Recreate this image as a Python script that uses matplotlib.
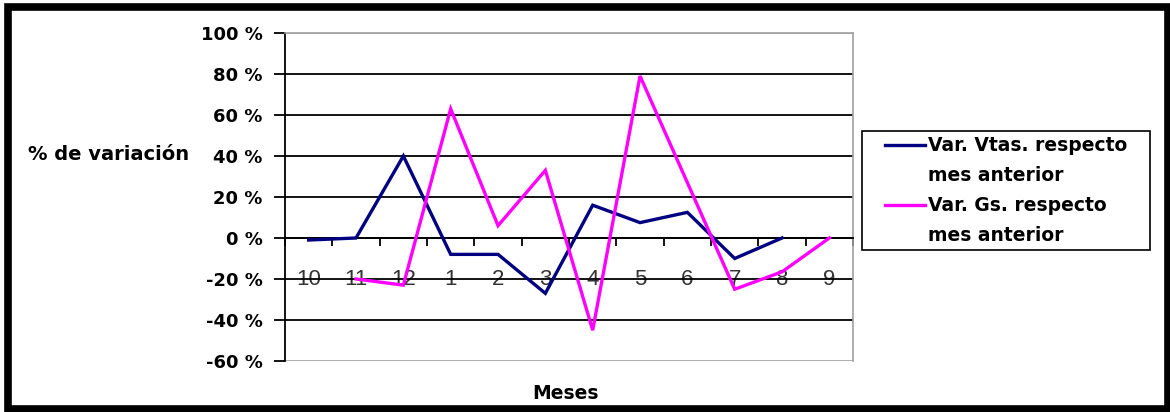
import numpy as np
import matplotlib.pyplot as plt
from matplotlib.lines import Line2D
from matplotlib.patches import Rectangle

# Meses (de octubre a septiembre) y variaciones mensuales en %
meses = ["10", "11", "12", "1", "2", "3", "4", "5", "6", "7", "8", "9"]
var_vtas = [-1, 0, 40, -8, -8, -27, 16, 7.5, 12.5, -10, 0, np.nan]
var_gs = [np.nan, -20, -23, 63, 6, 33, -45, 79, 27, -25, -16.5, 0]
y_ticks = [-60, -40, -20, 0, 20, 40, 60, 80, 100]

fig = plt.figure(figsize=(11.7, 4.12), dpi=100)
ax = fig.add_axes([0.2436, 0.1238, 0.4855, 0.7962])

x = np.arange(len(meses))
ax.plot(x, var_vtas, color="#000080", lw=2.4, solid_joinstyle="miter", zorder=3)
ax.plot(x, var_gs, color="#FF00FF", lw=2.4, solid_joinstyle="miter", zorder=3)

ax.set_xlim(-0.5, len(meses) - 0.5)
ax.set_ylim(y_ticks[0], y_ticks[-1])

# eje X sobre el 0 %, con marcas entre categorías
ax.spines["bottom"].set_position(("data", 0))
ax.spines["bottom"].set_linewidth(1.3)
ax.spines["left"].set_linewidth(1.3)
for s in ("top", "right"):
    ax.spines[s].set_color("#a0a0a0")
    ax.spines[s].set_linewidth(1.2)

ax.set_xticks(x)
ax.set_xticklabels(meses, fontfamily="Liberation Sans", fontsize=16, color="#333333")
ax.set_xticks(np.arange(len(meses) + 1) - 0.5, minor=True)
ax.tick_params(axis="x", which="major", length=0, pad=22)
ax.tick_params(axis="x", which="minor", direction="out", length=6, width=1.3)

ax.set_yticks(y_ticks)
ax.set_yticklabels([f"{v} %" for v in y_ticks], fontweight="bold", fontsize=13)
ax.tick_params(axis="y", direction="out", length=8, width=1.3, pad=8)

ax.grid(axis="y", color="black", lw=1.3, zorder=1)
for gl, v in zip(ax.yaxis.get_gridlines(), y_ticks):
    if v in (y_ticks[0], y_ticks[-1]):
        gl.set_color("#a0a0a0")
        gl.set_linewidth(1.2)
ax.set_axisbelow(True)

fig.text(0.024, 0.624, "% de variación", fontsize=14, fontweight="bold", va="center")
fig.text(0.483, 0.046, "Meses", fontsize=13.5, fontweight="bold", ha="center", va="center")

# leyenda: cada etiqueta ocupa dos filas
blank = Line2D([], [], color="none")
handles = [Line2D([], [], color="#000080", lw=2.4), blank,
           Line2D([], [], color="#FF00FF", lw=2.4), blank]
labels = ["Var. Vtas. respecto", "mes anterior", "Var. Gs. respecto", "mes anterior"]
leg = fig.legend(handles, labels, loc="upper left", bbox_to_anchor=(0.7564, 0.669),
                 frameon=False, prop={"weight": "bold", "size": 13.5},
                 handlelength=2.13, handletextpad=0.16, labelspacing=0.58,
                 borderpad=0, borderaxespad=0)
fig.patches.append(Rectangle((0.7368, 0.3932), 0.2462, 0.2888, transform=fig.transFigure,
                             fill=False, edgecolor="black", lw=1.2))

# marco negro alrededor de la figura
fig.patches.append(Rectangle((8 / 1170, 3 / 412), 1159.5 / 1170, 402.5 / 412,
                             transform=fig.transFigure, fill=False,
                             edgecolor="black", lw=5.5, zorder=10))

fig.savefig("out.png", dpi=100)
